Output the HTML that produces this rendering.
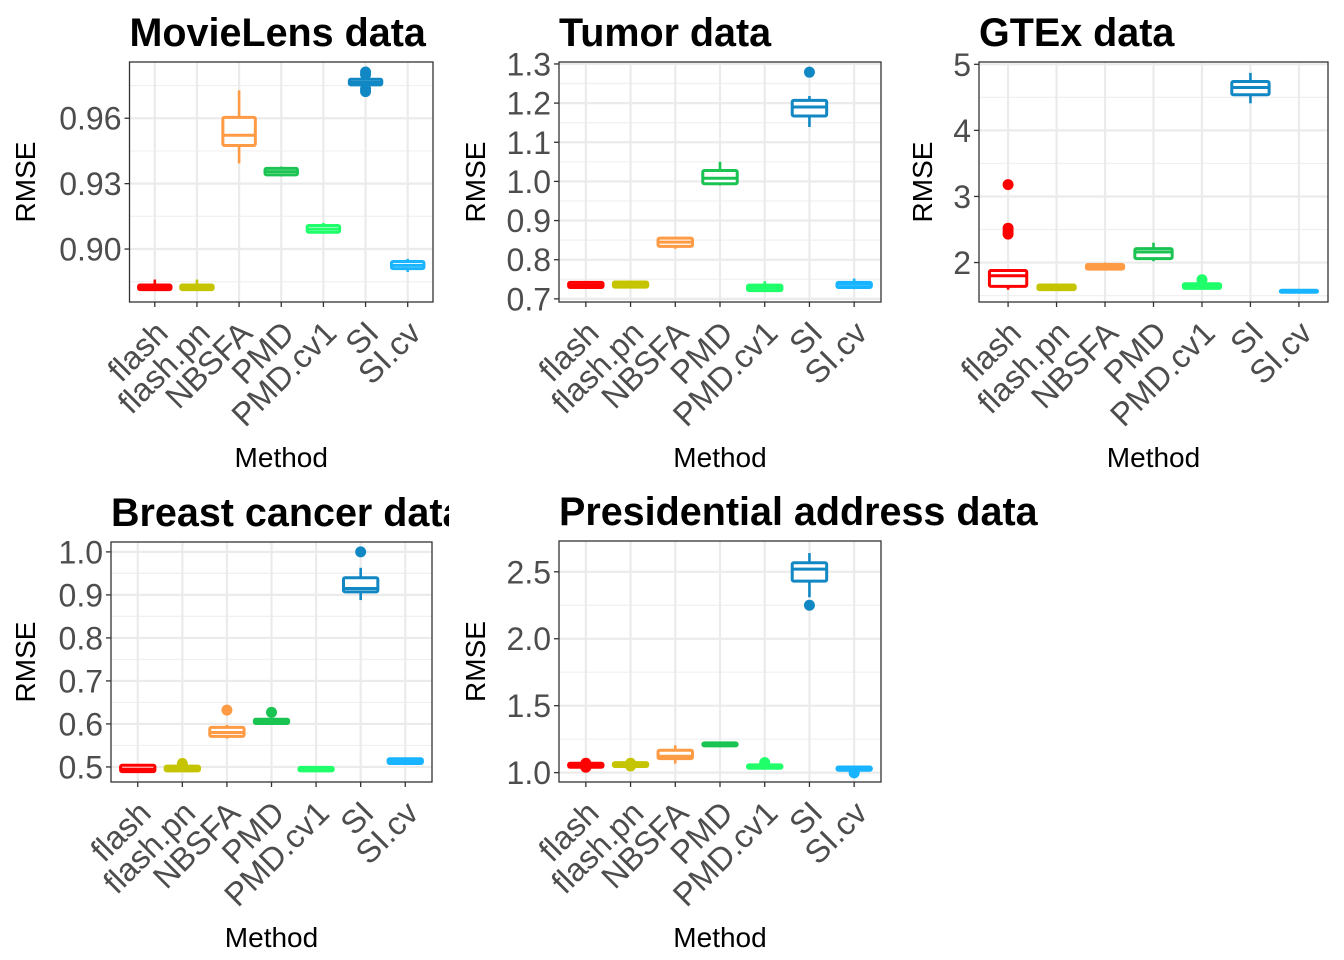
<!DOCTYPE html>
<html><head><meta charset="utf-8"><style>
html,body{margin:0;padding:0;background:#fff;}
svg{display:block;font-family:"Liberation Sans",Arial,sans-serif;}
</style></head><body>
<svg id="chart" width="1344" height="960" viewBox="0 0 1344 960" xmlns="http://www.w3.org/2000/svg">
<defs><clipPath id="breastClip"><rect x="0" y="480" width="449" height="60"/></clipPath></defs>
</svg>
<script>
const categories = ["flash","flash.pn","NBSFA","PMD","PMD.cv1","SI","SI.cv"];
const colors = ["#FF0000","#C4C400","#FF9A45","#1BC452","#1EFF6A","#1188C4","#18B4FF"];

// [lower whisker, q1, median, q3, upper whisker]
const movielensStats = [[0.8810,0.8814,0.8825,0.8835,0.8860],[0.8810,0.8814,0.8825,0.8835,0.8860],[0.9393,0.9475,0.9522,0.9604,0.9728],[0.9333,0.9340,0.9355,0.9370,0.9378],[0.9070,0.9077,0.9092,0.9108,0.9120],[0.9751,0.9753,0.9765,0.9779,0.9781],[0.8895,0.8910,0.8925,0.8943,0.8955]];
const movielensOutliers = [[],[],[],[],[],[0.9812,0.9800,0.9735,0.9722],[]];
const movielensTicks = [0.90,0.93,0.96];
const movielensRange = [0.8757,0.9858];

const tumorStats = [[0.726,0.729,0.735,0.742,0.745],[0.727,0.730,0.737,0.743,0.746],[0.828,0.834,0.845,0.855,0.857],[0.990,0.994,1.008,1.028,1.050],[0.718,0.721,0.728,0.735,0.745],[1.139,1.167,1.190,1.207,1.218],[0.725,0.729,0.737,0.742,0.752]];
const tumorOutliers = [[],[],[],[],[],[1.279],[]];
const tumorTicks = [0.7,0.8,0.9,1.0,1.1,1.2,1.3];
const tumorRange = [0.692,1.305];

const gtexStats = [[1.59,1.64,1.80,1.88,1.88],[1.58,1.59,1.63,1.66,1.68],[1.88,1.90,1.94,1.97,2.00],[2.02,2.06,2.16,2.21,2.30],[1.60,1.61,1.65,1.68,1.68],[4.41,4.54,4.65,4.74,4.87],[1.54,1.55,1.56,1.58,1.58]];
const gtexOutliers = [[3.18,2.52,2.47,2.43],[],[],[],[1.74],[],[]];
const gtexTicks = [2,3,4,5];
const gtexRange = [1.403,5.035];

const breastStats = [[0.487,0.489,0.495,0.504,0.505],[0.489,0.491,0.496,0.502,0.503],[0.566,0.571,0.580,0.592,0.598],[0.600,0.601,0.606,0.611,0.612],[0.490,0.491,0.495,0.499,0.500],[0.888,0.907,0.915,0.940,0.963],[0.507,0.508,0.513,0.519,0.521]];
const breastOutliers = [[],[0.508],[0.632],[0.627],[],[1.0],[]];
const breastTicks = [0.5,0.6,0.7,0.8,0.9,1.0];
const breastRange = [0.465,1.023];

const presStats = [[1.037,1.040,1.055,1.070,1.072],[1.042,1.046,1.062,1.075,1.079],[1.067,1.105,1.122,1.167,1.204],[1.197,1.200,1.210,1.222,1.226],[1.030,1.033,1.045,1.058,1.060],[2.310,2.430,2.520,2.568,2.640],[1.015,1.018,1.030,1.042,1.045]];
const presOutliers = [[1.04,1.07],[1.05,1.07],[],[],[1.075],[2.25],[0.998]];
const presTicks = [1.0,1.5,2.0,2.5];
const presRange = [0.93,2.73];

const NS="http://www.w3.org/2000/svg";
const svg=document.getElementById('chart');
function mk(tag,attrs,parent){const e=document.createElementNS(NS,tag);for(const k in attrs)e.setAttribute(k,attrs[k]);(parent||svg).appendChild(e);return e;}

function panel(cfg){
  const g=mk('g',{});
  
  
  const {x0,x1,y0,y1}=cfg;
  const [lo,hi]=cfg.range;
  const yS=v=>y1-(v-lo)/(hi-lo)*(y1-y0);
  const unit=(x1-x0)/(categories.length-1+1.2);
  const xS=i=>x0+unit*(0.6+i);
  const t=cfg.ticks, step=t[1]-t[0];
  const minors=[];
  for(let i=-1;i<t.length;i++){const m=t[0]+step*(i+0.5); if(m>lo&&m<hi) minors.push(m);}
  minors.forEach(m=>{const l=mk('line',{x1:x0,x2:x1,y1:yS(m),y2:yS(m),stroke:'#F0F0F0','stroke-width':1.2},g);
    
    });
  t.forEach(v=>{const l=mk('line',{x1:x0,x2:x1,y1:yS(v),y2:yS(v),stroke:'#EBEBEB','stroke-width':2.2},g);
    
    });
  categories.forEach((c,i)=>{const l=mk('line',{x1:xS(i),x2:xS(i),y1:y0,y2:y1,stroke:'#EBEBEB','stroke-width':2.2},g);
    
    });
  const bw=unit*0.77;
  cfg.stats.forEach((s,i)=>{
    const col=colors[i], cx=xS(i);
    const bg=mk('g',{},g);
    
    
    mk('line',{x1:cx,x2:cx,y1:yS(s[0]),y2:yS(s[1]),stroke:col,'stroke-width':2.6},bg);
    mk('line',{x1:cx,x2:cx,y1:yS(s[3]),y2:yS(s[4]),stroke:col,'stroke-width':2.6},bg);
    mk('rect',{x:cx-bw/2,y:yS(s[3]),width:bw,height:Math.max(0.5,yS(s[1])-yS(s[3])),fill:'#fff',stroke:col,'stroke-width':3,rx:1.5},bg);
    mk('line',{x1:cx-bw/2,x2:cx+bw/2,y1:yS(s[2]),y2:yS(s[2]),stroke:col,'stroke-width':3},bg);
    cfg.outliers[i].forEach(o=>{const p=mk('circle',{cx:cx,cy:yS(o),r:5.5,fill:col},bg);
      
      });
  });
  const b=mk('rect',{x:x0,y:y0,width:x1-x0,height:y1-y0,fill:'none',stroke:'#333','stroke-width':1.3},g);
  
  
  t.forEach(v=>{
    mk('line',{x1:x0-5,x2:x0,y1:yS(v),y2:yS(v),stroke:'#333','stroke-width':1.3},g);
    const tx=mk('text',{x:x0-8,y:yS(v)+11.5,'text-anchor':'end','font-size':32,fill:'#4D4D4D'},g);
    tx.textContent=cfg.fmt(v);
    
    
  });
  categories.forEach((c,i)=>{
    const cx=xS(i);
    mk('line',{x1:cx,x2:cx,y1:y1,y2:y1+5,stroke:'#333','stroke-width':1.3},g);
    const tx=mk('text',{x:cx+15,y:y1+33,'text-anchor':'end','font-size':32.5,fill:'#4D4D4D',transform:`rotate(-45 ${cx+15} ${y1+33})`},g);
    tx.textContent=c;
    
    
  });
  const ti=mk('text',{x:x0,y:y0-16,'font-size':39.5,'font-weight':'bold',fill:'#000'},g);
  if(cfg.clip) ti.setAttribute('clip-path','url(#'+cfg.clip+')');
  ti.textContent=cfg.title;
  
  
  const xt=mk('text',{x:(x0+x1)/2,y:y1+165,'text-anchor':'middle','font-size':28,fill:'#000'},g);
  xt.textContent='Method';
  
  
  const yx=cfg.ytx, yy=(y0+y1)/2;
  const yt=mk('text',{x:yx,y:yy,'text-anchor':'middle','font-size':28,fill:'#000',transform:`rotate(-90 ${yx} ${yy})`},g);
  yt.textContent='RMSE';
  
  
}
const f2=v=>v.toFixed(2), f1=v=>v.toFixed(1), f0=v=>v.toFixed(0);
panel({name:'movielens',title:'MovieLens data',x0:129.5,x1:433,y0:62,y1:302,range:movielensRange,ticks:movielensTicks,stats:movielensStats,outliers:movielensOutliers,fmt:f2,ytx:35});
panel({name:'tumor',title:'Tumor data',x0:559,x1:881,y0:62,y1:302,range:tumorRange,ticks:tumorTicks,stats:tumorStats,outliers:tumorOutliers,fmt:f1,ytx:485});
panel({name:'gtex',title:'GTEx data',x0:979,x1:1328,y0:62,y1:302,range:gtexRange,ticks:gtexTicks,stats:gtexStats,outliers:gtexOutliers,fmt:f0,ytx:932});
panel({name:'breast',title:'Breast cancer data',x0:111,x1:432,y0:542,y1:782,range:breastRange,ticks:breastTicks,stats:breastStats,outliers:breastOutliers,fmt:f1,ytx:35,clip:'breastClip'});
panel({name:'presidential',title:'Presidential address data',x0:559,x1:881,y0:541,y1:782,range:presRange,ticks:presTicks,stats:presStats,outliers:presOutliers,fmt:f1,ytx:485});
</script>
</body></html>
